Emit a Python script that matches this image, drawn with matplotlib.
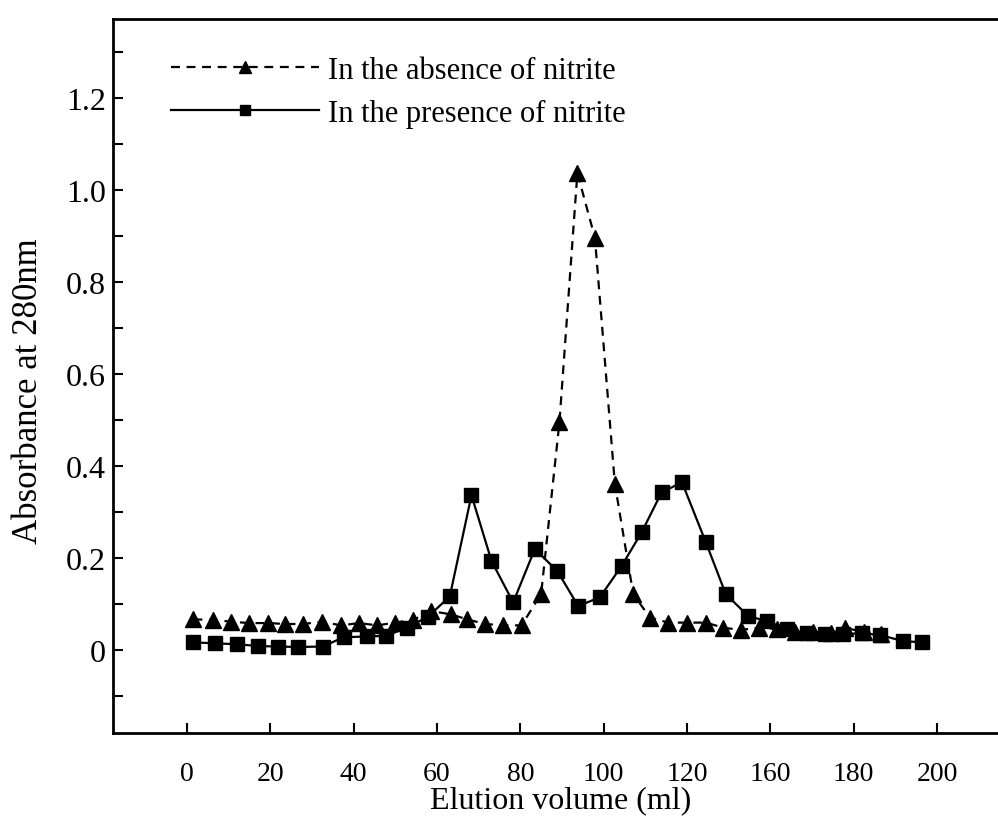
import matplotlib
matplotlib.use("Agg")
import matplotlib.pyplot as plt
from matplotlib.ticker import FixedLocator, MultipleLocator

plt.rcParams['font.family'] = ['Liberation Serif', 'DejaVu Serif']

# elution volume positions and absorbance
absent_x = [1.6, 6.3, 10.6, 15.0, 19.6, 23.6, 28.0, 32.4, 37.0, 41.3, 45.7, 50.0,
            54.3, 58.7, 63.3, 67.3, 71.6, 75.9, 80.3, 85.0, 89.4, 93.7, 97.9, 102.7,
            107.1, 111.1, 115.5, 120.0, 124.5, 128.7, 132.9, 137.3, 141.5, 145.8,
            150.2, 154.5, 158.0, 162.5, 166.5]
absent_y = [0.067, 0.066, 0.062, 0.059, 0.059, 0.057, 0.057, 0.062, 0.054, 0.059, 0.054, 0.060,
            0.066, 0.085, 0.078, 0.067, 0.057, 0.054, 0.054, 0.122, 0.496, 1.037, 0.897, 0.361,
            0.122, 0.071, 0.060, 0.060, 0.060, 0.049, 0.044, 0.049, 0.046, 0.040,
            0.040, 0.037, 0.048, 0.040, 0.035]

present_x = [1.6, 6.8, 12.0, 17.2, 22.0, 26.8, 32.6, 37.6, 43.2, 47.8, 52.8, 57.9,
             63.1, 68.3, 73.1, 78.3, 83.5, 88.9, 93.9, 99.1, 104.3, 109.1, 113.9, 118.8,
             124.5, 129.3, 134.7, 139.3, 144.0, 148.8, 153.1, 157.4, 161.9, 166.3, 171.8, 176.3]
present_y = [0.017, 0.015, 0.013, 0.009, 0.008, 0.007, 0.008, 0.028, 0.030, 0.031, 0.049, 0.073,
             0.117, 0.337, 0.194, 0.104, 0.220, 0.172, 0.096, 0.115, 0.183, 0.256, 0.343, 0.365,
             0.235, 0.122, 0.074, 0.063, 0.046, 0.037, 0.035, 0.035, 0.037, 0.033, 0.020, 0.017]

# tick positions and labels as printed (the original skips 140)
xtick_pos = [0, 20, 40, 60, 80, 100, 120, 140, 160, 180]
xtick_labels = ['0', '20', '40', '60', '80', '100', '120', '160', '180', '200']
ytick_pos = [0, 0.2, 0.4, 0.6, 0.8, 1.0, 1.2]
ytick_labels = ['0', '0.2', '0.4', '0.6', '0.8', '1.0', '1.2']

fig = plt.figure(figsize=(9.98, 8.28), dpi=100)
ax = fig.add_axes([0.1132, 0.1135, 0.8868, 0.8623])

ax.plot(absent_x, absent_y, color='black', lw=1.6, ls=(0, (4, 3)),
        marker='^', ms=11, label='In the absence of nitrite')
ax.plot(present_x, present_y, color='black', lw=1.6, ls='-',
        marker='s', ms=9.5, label='In the presence of nitrite')

ax.set_xlim(-17.7, 194.6)
ax.set_ylim(-0.18, 1.372)

ax.xaxis.set_major_locator(FixedLocator(xtick_pos))
ax.set_xticklabels(xtick_labels)
ax.yaxis.set_major_locator(FixedLocator(ytick_pos))
ax.set_yticklabels(ytick_labels)
ax.yaxis.set_minor_locator(MultipleLocator(0.1))

ax.tick_params(axis='both', which='both', direction='in', width=1.5, color='black')
ax.tick_params(axis='x', which='major', length=7, pad=20, labelsize=20)
ax.tick_params(axis='y', which='major', length=7, pad=5, labelsize=23)
ax.tick_params(axis='y', which='minor', length=7)

for side in ['left', 'bottom', 'top']:
    ax.spines[side].set_linewidth(2)
ax.spines['right'].set_visible(False)

ax.set_xlabel('Elution volume (ml)', fontsize=23)
ax.xaxis.set_label_coords(0.506, -0.073)
ax.set_ylabel('Absorbance at 280nm', fontsize=25)
ax.yaxis.set_label_coords(-0.077, 0.48)

ax.legend(loc='upper left', bbox_to_anchor=(0.048, 0.97), frameon=False,
          fontsize=22, handlelength=4.85, handletextpad=0.3, labelspacing=0.45,
          borderpad=0, markerscale=0.75)

fig.savefig('out.png', dpi=100)
